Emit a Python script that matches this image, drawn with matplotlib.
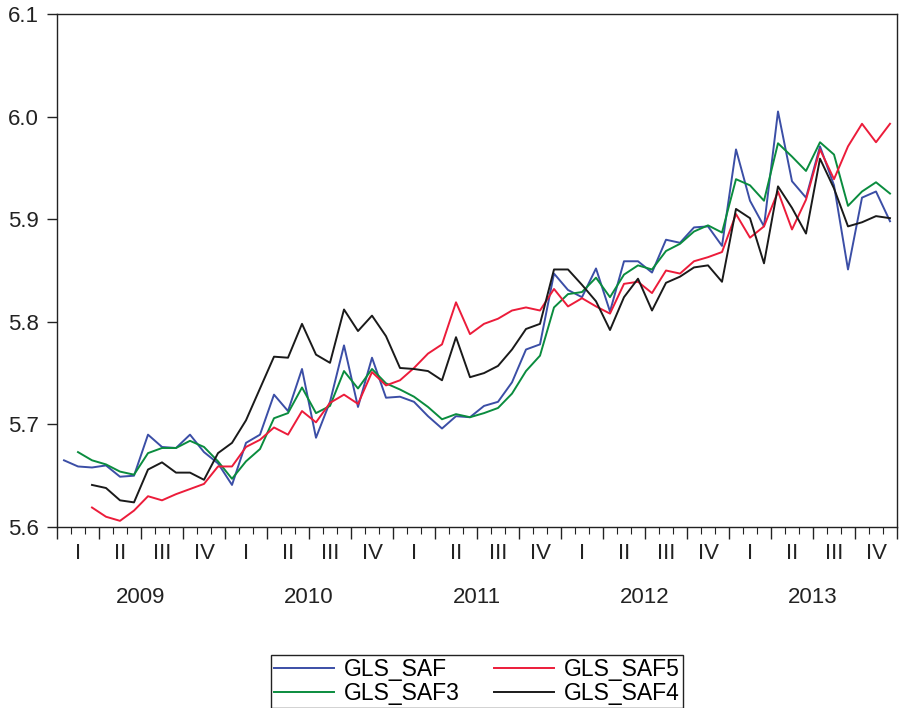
import numpy as np
import matplotlib.pyplot as plt

plt.rcParams['font.family'] = ['Liberation Sans', 'DejaVu Sans']

# monthly observations, Jan 2009 .. Dec 2013 (None = not available)
gls_saf = [5.665, 5.659, 5.658, 5.660, 5.649, 5.650, 5.690, 5.678, 5.677, 5.690,
           5.673, 5.662, 5.641, 5.682, 5.690, 5.729, 5.713, 5.754, 5.687, 5.722,
           5.777, 5.717, 5.765, 5.726, 5.727, 5.722, 5.708, 5.696, 5.708, 5.707,
           5.718, 5.722, 5.741, 5.773, 5.778, 5.847, 5.831, 5.824, 5.852, 5.810,
           5.859, 5.859, 5.848, 5.880, 5.877, 5.892, 5.893, 5.874, 5.968, 5.918,
           5.893, 6.005, 5.937, 5.921, 5.971, 5.933, 5.851, 5.921, 5.927, 5.898]
gls_saf3 = [None, 5.673, 5.665, 5.661, 5.654, 5.651, 5.672, 5.677, 5.677, 5.684,
            5.678, 5.664, 5.647, 5.664, 5.676, 5.706, 5.711, 5.736, 5.711, 5.718,
            5.752, 5.735, 5.754, 5.740, 5.734, 5.727, 5.717, 5.705, 5.710, 5.707,
            5.711, 5.716, 5.730, 5.752, 5.767, 5.814, 5.827, 5.829, 5.843, 5.824,
            5.846, 5.855, 5.851, 5.869, 5.876, 5.888, 5.894, 5.887, 5.939, 5.933,
            5.918, 5.974, 5.961, 5.947, 5.975, 5.963, 5.913, 5.927, 5.936, 5.925]
gls_saf5 = [None, None, 5.619, 5.610, 5.606, 5.616, 5.630, 5.626, 5.632, 5.637,
            5.642, 5.659, 5.659, 5.678, 5.685, 5.697, 5.690, 5.713, 5.702, 5.721,
            5.729, 5.720, 5.751, 5.738, 5.743, 5.755, 5.769, 5.778, 5.819, 5.788,
            5.798, 5.803, 5.811, 5.814, 5.811, 5.832, 5.815, 5.823, 5.815, 5.808,
            5.837, 5.839, 5.828, 5.850, 5.847, 5.859, 5.863, 5.868, 5.905, 5.882,
            5.893, 5.927, 5.890, 5.919, 5.968, 5.939, 5.971, 5.993, 5.975, 5.993]
gls_saf4 = [None, None, 5.641, 5.638, 5.626, 5.624, 5.656, 5.663, 5.653, 5.653,
            5.646, 5.672, 5.682, 5.704, 5.735, 5.766, 5.765, 5.798, 5.768, 5.760,
            5.812, 5.791, 5.806, 5.786, 5.755, 5.754, 5.752, 5.743, 5.785, 5.746,
            5.750, 5.757, 5.773, 5.793, 5.798, 5.851, 5.851, 5.836, 5.820, 5.792,
            5.824, 5.842, 5.811, 5.838, 5.844, 5.853, 5.855, 5.839, 5.910, 5.901,
            5.857, 5.932, 5.911, 5.886, 5.959, 5.930, 5.893, 5.897, 5.903, 5.901]

years = ['2009', '2010', '2011', '2012', '2013']
quarters = ['I', 'II', 'III', 'IV']

def arr(v):
    return np.array([np.nan if x is None else x for x in v])

x = np.arange(60) + 0.5

fig = plt.figure(figsize=(8.99, 7.08), dpi=100)
ax = fig.add_axes([57/899, 1 - 527/708, 840/899, 513/708])

ax.plot(x, arr(gls_saf), color='#3b4ea6', lw=1.4, label='GLS_SAF')
ax.plot(x, arr(gls_saf3), color='#0a8c3e', lw=1.4, label='GLS_SAF3')
ax.plot(x, arr(gls_saf5), color='#ec1c3a', lw=1.4, label='GLS_SAF5')
ax.plot(x, arr(gls_saf4), color='#1a1a1a', lw=1.4, label='GLS_SAF4')

ax.set_xlim(0, 60)
ax.set_ylim(5.6, 6.1)
ax.set_yticks(np.arange(5.6, 6.11, 0.1))
ax.set_yticklabels(['%.1f' % v for v in np.arange(5.6, 6.11, 0.1)], fontsize=16)
ax.tick_params(axis='y', direction='out', length=7, width=1, pad=6, colors='#222222')

ax.set_xticks(np.arange(0, 61, 3))
ax.set_xticklabels([])
ax.set_xticks(np.arange(0, 61, 1), minor=True)
ax.tick_params(axis='x', which='major', direction='out', length=8.5, width=1, color='#222222')
ax.tick_params(axis='x', which='minor', direction='out', length=5, width=0.8, color='#222222')

tr = ax.get_xaxis_transform()
for yi, yr in enumerate(years):
    for qi, q in enumerate(quarters):
        ax.text(yi * 12 + qi * 3 + 1.5, -0.0507, q, transform=tr,
                ha='center', va='center', fontsize=16, color='#222222')
    ax.text(yi * 12 + 6, -0.138, yr, transform=tr,
            ha='center', va='center', fontsize=16, color='#222222')

for s in ax.spines.values():
    s.set_linewidth(1)
    s.set_color('#222222')

h, l = ax.get_legend_handles_labels()
leg = fig.legend(h, l, loc='upper center', bbox_to_anchor=(477/899, 1 - 644/708),
                 ncol=2, fontsize=16.5, frameon=True, fancybox=False,
                 edgecolor='#222222', framealpha=1, handlelength=2.6,
                 handletextpad=0.45, columnspacing=1.5, labelspacing=0.05,
                 borderpad=0.12)
leg.get_frame().set_linewidth(1)

plt.savefig('out.png', dpi=100)
